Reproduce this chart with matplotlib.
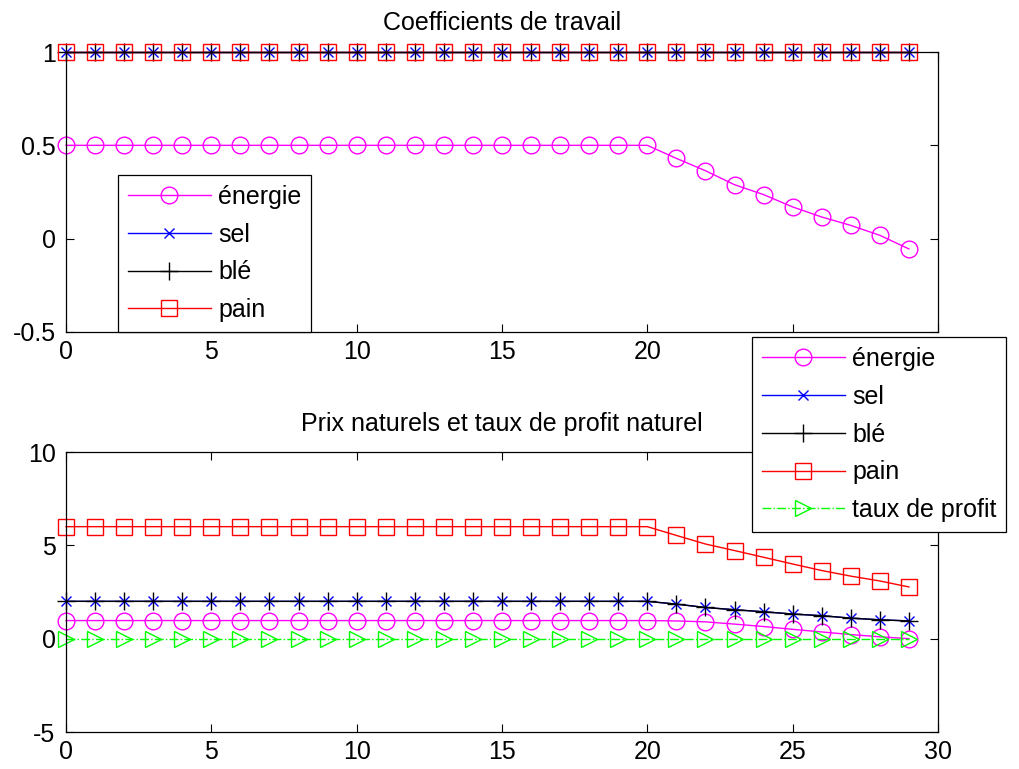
"""Coefficients de travail / prix naturels, in the old MATLAB look."""

import matplotlib

matplotlib.use("Agg")
import matplotlib.pyplot as plt

plt.rcParams["font.family"] = ["Liberation Sans", "DejaVu Sans"]
plt.rcParams["axes.unicode_minus"] = False

periods = list(range(30))

# top panel: labour coefficients
coef_energie = [0.5] * 21 + [0.43, 0.364, 0.289, 0.236, 0.17, 0.116, 0.071, 0.018, -0.055]
coef_sel = [1.0] * 30
coef_ble = [1.0] * 30
coef_pain = [1.0] * 30

# bottom panel: natural prices and profit rate
prix_energie = [0.97] * 21 + [0.95, 0.9, 0.78, 0.65, 0.5, 0.36, 0.22, 0.1, 0.0]
prix_sel = [2.0] * 21 + [1.85, 1.67, 1.55, 1.44, 1.32, 1.23, 1.1, 1.01, 0.95]
prix_ble = list(prix_sel)
prix_pain = [6.0] * 21 + [5.53, 5.07, 4.72, 4.36, 4.0, 3.65, 3.35, 3.09, 2.77]
taux_profit = [0.0] * 30

labels_top = ["énergie", "sel", "blé", "pain"]
labels_bottom = ["énergie", "sel", "blé", "pain", "taux de profit"]

FS = 18
W, H = 1019, 769


def styled(ax):
    ax.tick_params(direction="in", length=6, width=0.8, top=True, right=True,
                   labelsize=FS)
    ax.tick_params(axis="x", pad=6)
    ax.tick_params(axis="y", pad=7.5)
    for spine in ax.spines.values():
        spine.set_linewidth(0.9)


def draw_series(ax, values, labels, profit=None):
    specs = [("#ff00ff", "o", 12), ("#0000ff", "x", 7), ("#000000", "+", 13),
             ("#ff0000", "s", 11)]
    for vals, lab, (col, mk, ms) in zip(values, labels, specs):
        ax.plot(periods, vals, color=col, marker=mk, markersize=ms,
                markerfacecolor="none", markeredgewidth=1.0, linewidth=1.0,
                label=lab, clip_on=False)
    if profit is not None:
        ax.plot(periods, profit, color="#00ff00", linestyle="-.", marker=">",
                markersize=12, markerfacecolor="none", markeredgewidth=1.0,
                linewidth=1.0, label=labels[4], clip_on=False)


def boxed_legend(ax, **kw):
    leg = ax.legend(borderaxespad=0, fontsize=FS, fancybox=False, framealpha=1,
                    edgecolor="black", handlelength=3.3, labelspacing=0.55,
                    borderpad=0.4, handletextpad=0.3, **kw)
    leg.get_frame().set_linewidth(0.9)
    return leg


fig = plt.figure(figsize=(W / 100, H / 100), dpi=100)

ax1 = fig.add_axes([66 / W, 1 - 332 / H, 872 / W, 280 / H])
draw_series(ax1, [coef_energie, coef_sel, coef_ble, coef_pain], labels_top)
ax1.set_xlim(0, 30)
ax1.set_ylim(-0.5, 1)
ax1.set_xticks([0, 5, 10, 15, 20, 25, 30])
# the "30" label sits under the lower legend in the original, so leave it blank
ax1.set_xticklabels(["0", "5", "10", "15", "20", "25", ""])
ax1.set_yticks([-0.5, 0, 0.5, 1])
ax1.set_yticklabels(["-0.5", "0", "0.5", "1"])
ax1.set_title("Coefficients de travail", fontsize=FS, pad=16)
styled(ax1)
boxed_legend(ax1, loc="lower left", bbox_to_anchor=((118 - 66) / 872, 0))

ax2 = fig.add_axes([66 / W, 1 - 732 / H, 872 / W, 280 / H])
draw_series(ax2, [prix_energie, prix_sel, prix_ble, prix_pain], labels_bottom,
            profit=taux_profit)
ax2.set_xlim(0, 30)
ax2.set_ylim(-5, 10)
ax2.set_xticks([0, 5, 10, 15, 20, 25, 30])
ax2.set_yticks([-5, 0, 5, 10])
ax2.set_title("Prix naturels et taux de profit naturel", fontsize=FS, pad=15)
styled(ax2)
leg2 = boxed_legend(ax2, loc="upper left",
                    bbox_to_anchor=(752 / W, 1 - 337 / H),
                    bbox_transform=fig.transFigure)
leg2.set_zorder(10)

fig.savefig("out.png", dpi=100)
